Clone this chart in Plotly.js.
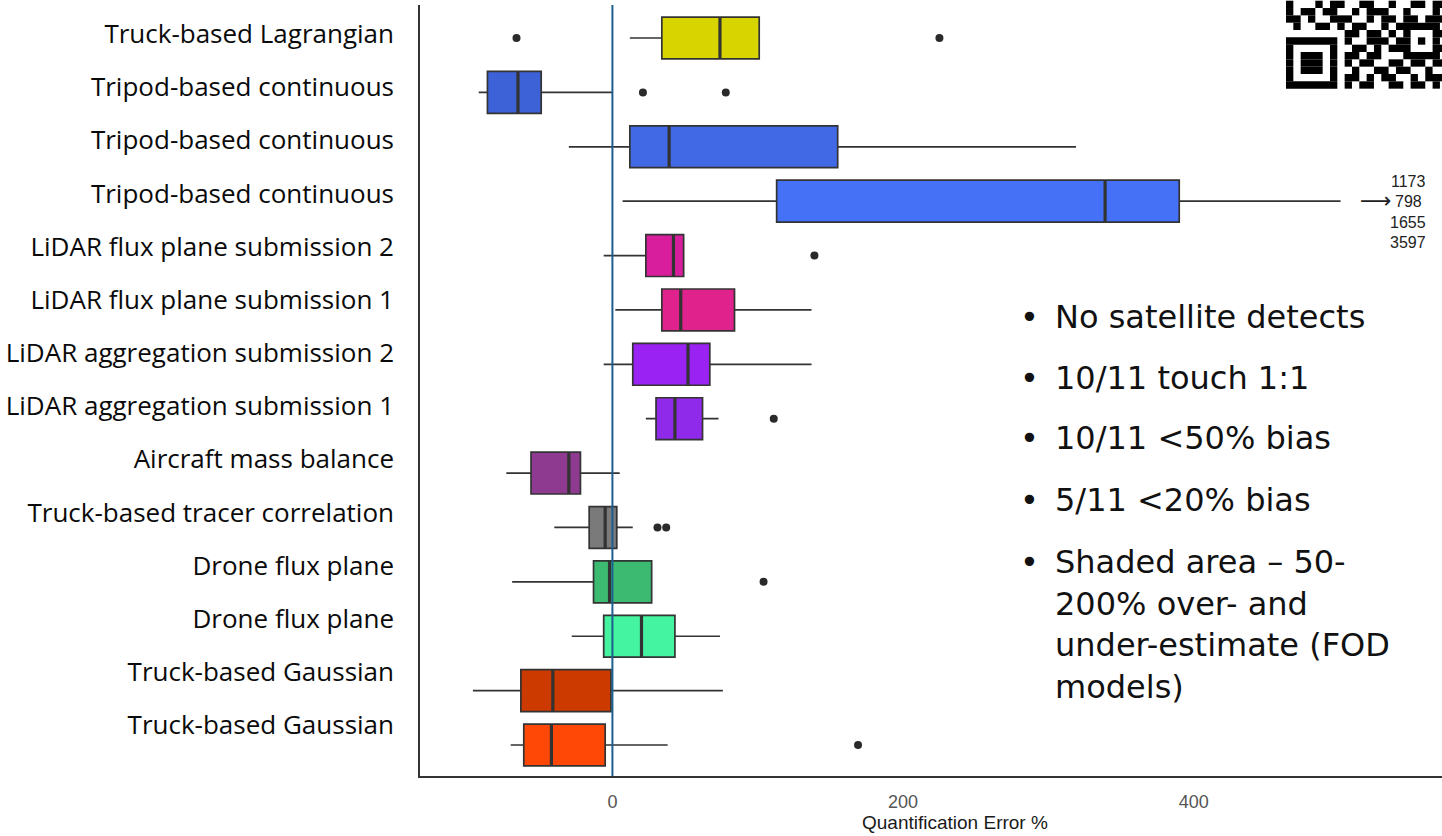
<!DOCTYPE html>
<html><head><meta charset="utf-8">
<script src="https://cdn.plot.ly/plotly-3.0.1.min.js"></script>
<style>html,body{margin:0;padding:0;background:#fff;}#chart{width:1442px;height:836px;}</style>
</head><body><div id="chart"></div>
<script>
// ---------------- data (top row first) ----------------
const labels = [
  "Truck-based Lagrangian",
  "Tripod-based continuous",
  "Tripod-based continuous",
  "Tripod-based continuous",
  "LiDAR flux plane submission 2",
  "LiDAR flux plane submission 1",
  "LiDAR aggregation submission 2",
  "LiDAR aggregation submission 1",
  "Aircraft mass balance",
  "Truck-based tracer correlation",
  "Drone flux plane",
  "Drone flux plane",
  "Truck-based Gaussian",
  "Truck-based Gaussian"
];
const lowerFence = [12, -92, -30, 7, -6, 2, -6, 23, -73, -40, -69, -28, -96, -70];
const q1         = [34, -86, 12, 113, 23, 34, 14, 30, -56, -16, -13, -6, -63, -61];
const median     = [74, -65, 39, 339, 42, 47, 52, 43, -30, -5, -2, 20, -41, -42];
const q3         = [101, -49, 155, 390, 49, 84, 67, 62, -22, 3, 27, 43, -1, -5];
const upperFence = [101, 0, 319, 501, 49, 137, 137, 73, 5, 14, 27, 74, 76, 38];
const outlierRow = [0, 0, 1, 1, 4, 7, 9, 9, 10, 13];
const outlierVal = [-66, 225, 21, 78, 139, 111, 31, 37, 104, 169];
const offscaleRow = 3;
const offscaleOutliers = [1173, 798, 1655, 3597];
const xTickVals = [0, 200, 400];
const xTitle = "Quantification Error %";
const notes = [
  "No satellite detects",
  "10/11 touch 1:1",
  "10/11 &lt;50% bias",
  "5/11 &lt;20% bias",
  "Shaded area – 50-<br>200% over- and<br>under-estimate (FOD<br>models)"
];

// ---------------- styles ----------------
const boxColors = ["#d8d400", "#3d62d8", "#4169e6", "#4571f7", "#d81e9c", "#e0228c",
  "#9a22f2", "#8f2aea", "#8e3a90", "#7a7a7a", "#3dba72", "#44f4a0", "#cc3a00", "#ff4805"];
const qrRows = [
  "1000101100110010011011",
  "1011011001011100100010",
  "1101001110010110110111",
  "0100110101100101111110",
  "0000000011011010100011",
  "1111111010011101101010",
  "1000001001101011100011",
  "1011101011011000111110",
  "1011101010110011011011",
  "1011101001001101100100",
  "1000001011010110010111",
  "1111111010110011011010"
];

const W = 1442, H = 836, L = 420, R = 0, T = 5, B = 60;
const plotW = W - L - R, plotH = H - T - B;
const px = v => (v - L) / plotW;
const py = v => (H - B - v) / plotH;

const n = labels.length;
const pos = labels.map((_, i) => n - 1 - i);
const boxWidth = 0.77;
const lineCol = "#333333";

const traces = [];
labels.forEach((lab, i) => {
  traces.push({
    type: "box", orientation: "h", name: lab,
    y: [pos[i]], q1: [q1[i]], median: [median[i]], q3: [q3[i]],
    lowerfence: [lowerFence[i]], upperfence: [upperFence[i]],
    width: boxWidth, whiskerwidth: 0, boxpoints: false,
    fillcolor: boxColors[i], line: {color: lineCol, width: 1.7},
    showlegend: false, hoverinfo: "skip"
  });
});
// thick median bars
const mx = [], my = [];
median.forEach((m, i) => { mx.push(m, m, null); my.push(pos[i] - boxWidth / 2, pos[i] + boxWidth / 2, null); });
traces.push({type: "scatter", mode: "lines", x: mx, y: my, line: {color: lineCol, width: 3.2},
  showlegend: false, hoverinfo: "skip"});
// outliers
traces.push({type: "scatter", mode: "markers", x: outlierVal, y: outlierRow.map(r => pos[r]),
  marker: {size: 8, color: "#2a2a2a"}, showlegend: false, hoverinfo: "skip"});
// anchor for label axis
traces.push({type: "scatter", mode: "markers", x: [null], y: [null], yaxis: "y2", showlegend: false, hoverinfo: "skip"});

const annotations = [];
// x title
annotations.push({xref: "paper", yref: "paper", x: px(955), y: py(822), xanchor: "center", yanchor: "middle",
  text: xTitle, showarrow: false, font: {family: "Liberation Sans Narrow, Liberation Sans, Arial", size: 19, color: "#1a1a1a"}});
// notes
const noteY = [316.7, 378, 438, 500, 561.7];
const lineH = 42.1;
notes.forEach((t, k) => {
  const nLines = t.split("<br>").length;
  annotations.push({xref: "paper", yref: "paper", x: px(1053), y: py(noteY[k] + (nLines - 1) * lineH / 2),
    xanchor: "left", yanchor: "middle", align: "left", text: t, showarrow: false,
    font: {family: "DejaVu Sans", size: 32, color: "#111"}});
  annotations.push({xref: "paper", yref: "paper", x: px(1029), y: py(noteY[k]), xanchor: "center", yanchor: "middle",
    text: "•", showarrow: false, font: {family: "DejaVu Sans", size: 32, color: "#111"}});
});
// off-scale outliers
offscaleOutliers.forEach((v, k) => {
  annotations.push({xref: "paper", yref: "paper", x: px(1408), y: py(181.7 + k * 20.3), xanchor: "center", yanchor: "middle",
    text: String(v), showarrow: false, font: {family: "Liberation Sans", size: 16, color: "#222"}});
});
annotations.push({xref: "paper", yref: "paper", x: px(1376), y: py(200), xanchor: "center", yanchor: "middle",
  text: "⟶", showarrow: false, font: {family: "DejaVu Sans", size: 22, color: "#222"}});

const shapes = [];
// zero reference line on top
shapes.push({type: "line", xref: "x", yref: "paper", x0: 0, x1: 0, y0: 0, y1: 1, layer: "above",
  line: {color: "#1d5f8c", width: 2}});
// QR code fragment (decoration)
const m = 7.33, qx = 1286, qy = 0.7;
qrRows.forEach((row, r) => {
  let c = 0;
  while (c < row.length) {
    if (row[c] === "1") {
      let e = c;
      while (e + 1 < row.length && row[e + 1] === "1") e++;
      shapes.push({type: "rect", xref: "paper", yref: "paper", layer: "above",
        x0: px(qx + c * m), x1: px(Math.min(W, qx + (e + 1) * m)), y0: py(qy + (r + 1) * m), y1: py(qy + r * m),
        fillcolor: "#000", line: {width: 0}});
      c = e + 1;
    } else c++;
  }
});

const layout = {
  width: W, height: H,
  margin: {l: L, r: R, t: T, b: B, autoexpand: false},
  paper_bgcolor: "#ffffff", plot_bgcolor: "#ffffff", showlegend: false,
  xaxis: {range: [-132.4, 570.8], tickvals: xTickVals, ticktext: xTickVals.map(String),
    showgrid: false, zeroline: false, showline: true, linecolor: lineCol, linewidth: 2, ticks: "",
    ticklabelstandoff: 8,
    tickfont: {family: "Liberation Sans Narrow, Liberation Sans, Arial", size: 18, color: "#555"}},
  yaxis: {range: [-0.570, 13.607], showgrid: false, zeroline: false, showline: true,
    linecolor: lineCol, linewidth: 2, showticklabels: false, ticks: ""},
  yaxis2: {overlaying: "y", side: "left", anchor: "x", range: [-0.959, 13.546],
    tickvals: pos, ticktext: labels, showgrid: false, zeroline: false, showline: false, ticks: "",
    ticklabelstandoff: 25, tickfont: {family: "Open Sans", size: 26, weight: 500, color: "#0a0a0a"}},
  annotations: annotations,
  shapes: shapes
};

Plotly.newPlot("chart", traces, layout, {displayModeBar: false, staticPlot: true});
</script>
</body></html>
